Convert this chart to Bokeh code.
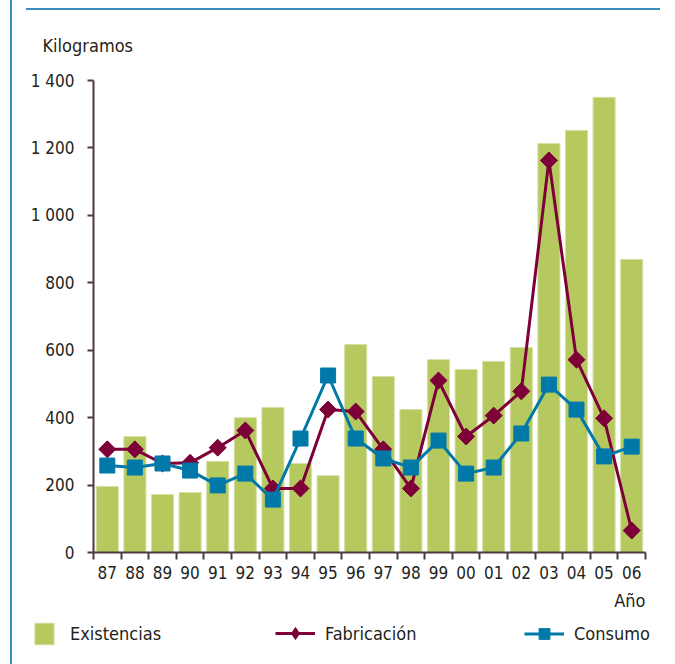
import numpy as np
from bokeh.plotting import figure
from bokeh.models import (Range1d, FixedTicker, Legend, LegendItem, Label,
                          InlineStyleSheet, ColumnDataSource)
from bokeh.embed import file_html
from bokeh.resources import INLINE

years = ["87", "88", "89", "90", "91", "92", "93", "94", "95", "96",
         "97", "98", "99", "00", "01", "02", "03", "04", "05", "06"]
existencias = [196, 344, 172, 178, 270, 400, 430, 264, 228, 617,
               522, 424, 572, 543, 567, 608, 1213, 1252, 1350, 869]
fabricacion = [306, 306, 264, 266, 311, 362, 190, 190, 424, 418,
               306, 190, 510, 344, 406, 478, 1163, 572, 398, 65]
consumo = [258, 252, 264, 243, 199, 234, 157, 338, 525, 338,
           279, 252, 332, 234, 252, 353, 498, 424, 285, 314]
y_ticks = [0, 200, 400, 600, 800, 1000, 1200, 1400]
y_tick_labels = ["0", "200", "400", "600", "800", "1 000", "1 200", "1 400"]

FONT = "DejaVu Sans Condensed"
FS_TICK = "17px"
FS = "18px"
TXT = "#231f20"
AXIS = "#4b3a45"
GREEN = "#b5c95f"
MAROON = "#7d0039"
BLUE = "#0079a9"
FRAME = "#3a8dbb"

# canvas geometry (pixels): whole figure is the plotting frame,
# axes are pinned at data 0 with fixed_location
W, H = 660, 656
AX_LEFT, AX_RIGHT, AX_TOP, AX_BOTTOM = 93, 645, 80, 552
Y_MAX = y_ticks[-1]
ncat = len(years)
cw = (AX_RIGHT - AX_LEFT) / ncat
ppu = (AX_BOTTOM - AX_TOP) / Y_MAX
x_range = Range1d(-AX_LEFT / cw, (W - AX_LEFT) / cw)
y_range = Range1d(-(H - AX_BOTTOM) / ppu, AX_BOTTOM / ppu)

x = [i + 0.5 for i in range(ncat)]
src = ColumnDataSource(dict(x=x, years=years, existencias=existencias,
                            fabricacion=fabricacion, consumo=consumo))

css = InlineStyleSheet(css=f"""
:host {{ position: relative; }}
:host::before {{ content: ""; position: absolute; left: 10px; top: 0px; width: 2px;
  height: 664px; background: {FRAME}; z-index: 10; }}
:host::after {{ content: ""; position: absolute; left: 26px; top: 8px; width: 634px;
  height: 2px; background: {FRAME}; z-index: 10; }}
""")

p = figure(width=W, height=H, x_range=x_range, y_range=y_range,
           output_backend="svg", toolbar_location=None, min_border=0,
           stylesheets=[css])
p.grid.visible = False
p.outline_line_color = None
p.background_fill_color = "white"
p.border_fill_color = "white"
# an off-view range used only for the legend's diamond swatch
p.extra_y_ranges = {"legend_only": Range1d(-2, -1)}

bars = p.vbar(x="x", top="existencias", bottom=0, width=0.8, source=src,
              fill_color=GREEN, line_color="#d6e0a6", line_width=1)
fl = p.line("x", "fabricacion", source=src, line_color=MAROON, line_width=3)
fm = p.scatter("x", "fabricacion", source=src, marker="square", angle=np.pi / 4,
               size=12, fill_color=MAROON, line_color=MAROON)
cl = p.line("x", "consumo", source=src, line_color=BLUE, line_width=3)
cm = p.scatter("x", "consumo", source=src, marker="square", size=15,
               fill_color=BLUE, line_color=BLUE)
fm_leg = p.scatter("x", "fabricacion", source=src, marker="diamond", size=12,
                   fill_color=MAROON, line_color=MAROON, y_range_name="legend_only")

# y axis
ya = p.yaxis[0]
ya.fixed_location = 0
ya.bounds = (0, Y_MAX)
ya.ticker = FixedTicker(ticks=y_ticks)
ya.major_label_overrides = dict(zip(y_ticks, y_tick_labels))
ya.major_tick_in = 0
ya.major_tick_out = 6
ya.minor_tick_out = 0
ya.minor_tick_in = 0
ya.axis_line_color = AXIS
ya.axis_line_width = 2
ya.major_tick_line_color = AXIS
ya.major_tick_line_width = 2
ya.major_label_text_font = FONT
ya.major_label_text_font_size = FS_TICK
ya.major_label_text_color = TXT
ya.major_label_standoff = 13

# x axis
xa = p.xaxis[0]
xa.fixed_location = 0
xa.bounds = (0, ncat)
xa.ticker = FixedTicker(ticks=x, minor_ticks=list(range(ncat + 1)))
xa.major_label_overrides = dict(zip(x, years))
xa.major_tick_in = 0
xa.major_tick_out = 0
xa.minor_tick_in = 0
xa.minor_tick_out = 7
xa.minor_tick_line_color = AXIS
xa.minor_tick_line_width = 2
xa.axis_line_color = AXIS
xa.axis_line_width = 2
xa.major_label_text_font = FONT
xa.major_label_text_font_size = FS_TICK
xa.major_label_text_color = TXT
xa.major_label_standoff = 6

p.add_layout(Label(x=42, y=H - 45, x_units="screen", y_units="screen", text="Kilogramos",
                   text_font=FONT, text_font_size=FS, text_color=TXT,
                   text_baseline="middle", text_align="left"))
p.add_layout(Label(x=AX_RIGHT, y=H - 600, x_units="screen", y_units="screen", text="Año",
                   text_font=FONT, text_font_size=FS, text_color=TXT,
                   text_baseline="middle", text_align="right"))


def add_legend(label, renderers, loc, gw, gh, standoff):
    lgd = Legend(items=[LegendItem(label=label, renderers=renderers)], location=loc,
                 glyph_width=gw, glyph_height=gh, label_standoff=standoff,
                 padding=0, margin=0, border_line_color=None,
                 background_fill_alpha=0, label_text_font=FONT,
                 label_text_font_size=FS, label_text_color=TXT)
    p.add_layout(lgd)


add_legend("Existencias", [bars], (32, H - 633 - 13.5), 24, 27, 14)
add_legend("Fabricación", [fl, fm_leg], (275, H - 633 - 15), 40, 30, 10)
add_legend("Consumo", [cl, cm], (524, H - 633 - 13.5), 40, 27, 10)

open("out.html", "w").write(file_html(p, INLINE))
